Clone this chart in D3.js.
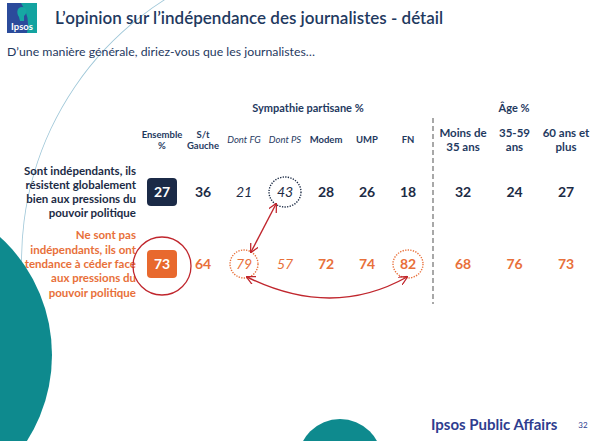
<!DOCTYPE html>
<html><head><meta charset="utf-8">
<script src="https://cdn.jsdelivr.net/npm/d3@7"></script>
<style>
html,body{margin:0;padding:0;background:#fff;}
svg{display:block;font-family:Lato,"Open Sans",sans-serif;}
</style></head>
<body>
<svg id="chart" width="599" height="441"></svg>
<script>
// ---- data ----
const title = "L\u2019opinion sur l\u2019indépendance des journalistes - détail";
const subtitle = "D\u2019une manière générale, diriez-vous que les journalistes\u2026";
const partyGroupLabel = "Sympathie partisane %";
const ageGroupLabel = "Âge %";
const partyColumns = ["Ensemble|%", "S/t|Gauche", "Dont FG", "Dont PS", "Modem", "UMP", "FN"];
const partyItalic = [false, false, true, true, false, false, false];
const ageColumns = ["Moins de|35 ans", "35-59|ans", "60 ans et|plus"];
const rowLabels = [
  ["Sont indépendants, ils", "résistent globalement", "bien aux pressions du", "pouvoir politique"],
  ["Ne sont pas", "indépendants, ils ont", "tendance à céder face", "aux pressions du", "pouvoir politique"]
];
const independentParty = [27, 36, 21, 43, 28, 26, 18];
const independentAge = [32, 24, 27];
const dependentParty = [73, 64, 79, 57, 72, 74, 82];
const dependentAge = [68, 76, 73];
const footer = "Ipsos Public Affairs";
const pageNumber = "32";

// ---- drawing ----
const svg = d3.select("#chart");
const navy = "#1c2b45", orange = "#e8703a", headBlue = "#1f3a5f", red = "#c0262d";

// decorations
svg.append("path")
  .attr("d", d3.arc()({innerRadius: 308, outerRadius: 308.8, startAngle: -Math.PI * 0.56, endAngle: -Math.PI * 0.16}))
  .attr("transform", "translate(330,260)")
  .attr("fill", "#9fc7d8");
svg.append("circle").attr("cx", -108).attr("cy", 355).attr("r", 160).attr("fill", "#0e8a8e");
svg.append("circle").attr("cx", 340).attr("cy", 461).attr("r", 42).attr("fill", "#0e8a8e");

// logo
const logo = svg.append("g").attr("transform", "translate(7,3)");
logo.append("rect").attr("width", 30).attr("height", 30).attr("fill", "#2b4b9b");
logo.append("path").attr("d", "M14,0 L30,0 L30,30 L20,30 Q24,15 14,0 Z").attr("fill", "#13a3a0");
logo.append("path").attr("d", "M12,14 C9,10 10,4 15,4 C20,4 21,10 17,13 L17,18 L13,18 Z").attr("fill", "#16a7a3");
logo.append("text").attr("x", 15).attr("y", 27).attr("text-anchor", "middle")
  .attr("fill", "#fff").attr("font-size", 9.5).attr("font-weight", 700).text("Ipsos");

// titles
svg.append("text").attr("x", 55).attr("y", 24).attr("fill", headBlue)
  .attr("font-size", 17).attr("font-weight", 600).text(title);
svg.append("text").attr("x", 7).attr("y", 56).attr("fill", headBlue)
  .attr("font-size", 12.3).text(subtitle);

// scales
const xParty = d3.scalePoint().domain(d3.range(partyColumns.length)).range([162, 408]);
const xAge = d3.scalePoint().domain(d3.range(ageColumns.length)).range([463, 566]);
const yRow = d3.scalePoint().domain([0, 1]).range([192, 264]);

// group headers
svg.append("text").attr("x", 308).attr("y", 112).attr("text-anchor", "middle")
  .attr("fill", headBlue).attr("font-size", 11).attr("font-weight", 700).text(partyGroupLabel);
svg.append("text").attr("x", 514).attr("y", 112).attr("text-anchor", "middle")
  .attr("fill", headBlue).attr("font-size", 11).attr("font-weight", 700).text(ageGroupLabel);

function header(sel, x, label, italic, size) {
  const lines = label.split("|");
  const t = sel.append("text").attr("text-anchor", "middle").attr("fill", headBlue)
    .attr("font-size", size).attr("font-weight", italic ? 400 : 700)
    .attr("font-style", italic ? "italic" : "normal");
  const lh = size * 1.2;
  const y0 = 140 - (lines.length - 1) * lh / 2 + size * 0.35;
  lines.forEach((l, i) => t.append("tspan").attr("x", x).attr("y", y0 + i * lh).text(l));
}
partyColumns.forEach((c, i) => header(svg, xParty(i), c, partyItalic[i], 9.5));
ageColumns.forEach((c, i) => header(svg, xAge(i), c, false, 11.5));

// divider
svg.append("line").attr("x1", 433).attr("x2", 433).attr("y1", 118).attr("y2", 304)
  .attr("stroke", "#a8a8a8").attr("stroke-width", 2).attr("stroke-dasharray", "5,3");

// row labels
rowLabels.forEach((lines, r) => {
  const t = svg.append("text").attr("text-anchor", "end").attr("font-size", 11.5).attr("font-weight", 700)
    .attr("fill", r === 0 ? navy : orange);
  const lh = 14.3;
  const y0 = yRow(r) - (lines.length - 1) * lh / 2 + 4;
  lines.forEach((l, i) => t.append("tspan").attr("x", 136).attr("y", y0 + i * lh).text(l));
});

// values
const rows = [[independentParty, independentAge], [dependentParty, dependentAge]];
rows.forEach(([pv, av], r) => {
  const col = r === 0 ? navy : orange;
  const boxCol = r === 0 ? "#1b2a47" : "#e8692e";
  svg.append("rect").attr("x", xParty(0) - 15).attr("y", yRow(r) - 14).attr("width", 30).attr("height", 28)
    .attr("rx", 4).attr("fill", boxCol);
  pv.forEach((v, i) => {
    svg.append("text").attr("x", xParty(i)).attr("y", yRow(r) + 5).attr("text-anchor", "middle")
      .attr("font-size", 14).attr("font-weight", partyItalic[i] ? 400 : 700)
      .attr("font-style", partyItalic[i] ? "italic" : "normal")
      .attr("fill", i === 0 ? "#fff" : col).text(v);
  });
  av.forEach((v, i) => {
    svg.append("text").attr("x", xAge(i)).attr("y", yRow(r) + 5).attr("text-anchor", "middle")
      .attr("font-size", 14).attr("font-weight", 700).attr("fill", col).text(v);
  });
});

// annotations: dotted circles
const dotted = [[xParty(3), yRow(0), 16, 15, navy], [xParty(2), yRow(1), 14, 14, orange], [xParty(6), yRow(1), 15, 14, orange]];
dotted.forEach(([cx, cy, rx, ry, c]) => {
  svg.append("ellipse").attr("cx", cx).attr("cy", cy).attr("rx", rx).attr("ry", ry)
    .attr("fill", "none").attr("stroke", c).attr("stroke-width", 1.4).attr("stroke-dasharray", "1.3,1.3");
});
// big red circle
svg.append("circle").attr("cx", xParty(0)).attr("cy", yRow(1) + 2).attr("r", 29)
  .attr("fill", "none").attr("stroke", red).attr("stroke-width", 1.3);

// arrows
const defs = svg.append("defs");
defs.append("marker").attr("id", "ah").attr("viewBox", "0 0 10 10").attr("refX", 9).attr("refY", 5)
  .attr("markerWidth", 9).attr("markerHeight", 9).attr("orient", "auto-start-reverse")
  .attr("markerUnits", "userSpaceOnUse")
  .append("path").attr("d", "M0,0 L10,5 L0,10").attr("fill", "none").attr("stroke", red).attr("stroke-width", 1.4);

svg.append("line").attr("x1", xParty(3) - 9).attr("y1", yRow(0) + 12)
  .attr("x2", xParty(2) + 7).attr("y2", yRow(1) - 12)
  .attr("stroke", red).attr("stroke-width", 1.4)
  .attr("marker-start", "url(#ah)").attr("marker-end", "url(#ah)");

const p1 = [xParty(2) + 3, yRow(1) + 13], p2 = [xParty(6) - 1, yRow(1) + 13];
svg.append("path").attr("d", `M${p1[0]},${p1[1]} Q332,${yRow(1) + 55} ${p2[0]},${p2[1]}`)
  .attr("fill", "none").attr("stroke", red).attr("stroke-width", 1.4)
  .attr("marker-start", "url(#ah)").attr("marker-end", "url(#ah)");

// footer
svg.append("text").attr("x", 431).attr("y", 430).attr("fill", "#2e3d8f").attr("font-size", 15)
  .attr("font-weight", 700).text(footer);
svg.append("text").attr("x", 583).attr("y", 428).attr("text-anchor", "middle").attr("fill", "#2e3d8f")
  .attr("font-size", 8).text(pageNumber);
</script>
</body></html>
